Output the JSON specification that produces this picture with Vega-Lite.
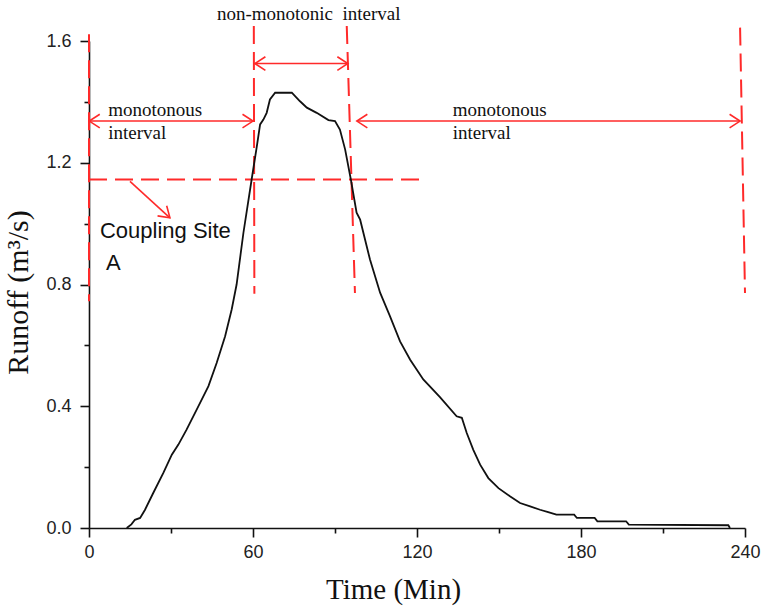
{
  "$schema": "https://vega.github.io/schema/vega-lite/v6.json",
  "width": 656,
  "height": 487,
  "autosize": {"type": "none"},
  "padding": {"left": 89, "top": 41, "right": 20, "bottom": 85},
  "background": "white",
  "config": {"view": {"stroke": null}},
  "datasets": {
    "curve": [
      {"t": 13.8, "q": 0}, {"t": 15.5, "q": 0.012}, {"t": 16.8, "q": 0.027}, {"t": 18.7, "q": 0.033},
      {"t": 20.5, "q": 0.06}, {"t": 23.5, "q": 0.115}, {"t": 27.2, "q": 0.181}, {"t": 30.3, "q": 0.241},
      {"t": 32.7, "q": 0.274}, {"t": 35.7, "q": 0.323}, {"t": 39.4, "q": 0.389}, {"t": 43.7, "q": 0.466},
      {"t": 46.7, "q": 0.542}, {"t": 49.8, "q": 0.63}, {"t": 52.2, "q": 0.718}, {"t": 54.0, "q": 0.8},
      {"t": 56.5, "q": 0.97}, {"t": 59.5, "q": 1.145}, {"t": 61.4, "q": 1.254}, {"t": 62.6, "q": 1.326},
      {"t": 63.8, "q": 1.342}, {"t": 65.0, "q": 1.364}, {"t": 66.2, "q": 1.408}, {"t": 68.1, "q": 1.43},
      {"t": 74.2, "q": 1.43}, {"t": 77.2, "q": 1.402}, {"t": 79.7, "q": 1.381}, {"t": 83.3, "q": 1.364},
      {"t": 87.6, "q": 1.34}, {"t": 90.0, "q": 1.337}, {"t": 91.8, "q": 1.309}, {"t": 93.7, "q": 1.244},
      {"t": 95.8, "q": 1.145}, {"t": 97.9, "q": 1.036}, {"t": 99.2, "q": 1.013}, {"t": 102.8, "q": 0.882},
      {"t": 106.5, "q": 0.773}, {"t": 110.1, "q": 0.696}, {"t": 113.8, "q": 0.613}, {"t": 117.5, "q": 0.553},
      {"t": 122.3, "q": 0.488}, {"t": 128.4, "q": 0.43}, {"t": 134.5, "q": 0.367}, {"t": 136.4, "q": 0.362},
      {"t": 138.2, "q": 0.312}, {"t": 140.6, "q": 0.257}, {"t": 143.1, "q": 0.208}, {"t": 146.1, "q": 0.164},
      {"t": 149.8, "q": 0.131}, {"t": 154.0, "q": 0.104}, {"t": 157.7, "q": 0.082}, {"t": 161.4, "q": 0.071},
      {"t": 165.0, "q": 0.06}, {"t": 168.0, "q": 0.052}, {"t": 171.0, "q": 0.044}, {"t": 177.5, "q": 0.044},
      {"t": 178.5, "q": 0.033}, {"t": 185.0, "q": 0.033}, {"t": 186.0, "q": 0.022}, {"t": 196.5, "q": 0.022},
      {"t": 197.5, "q": 0.011}, {"t": 233.9, "q": 0.009}, {"t": 234.5, "q": 0.0}
    ],
    "dashes": [
      {"t": 0, "q": 1.622, "t2": 0, "q2": 0.745},
      {"t": 60.3, "q": 1.649, "t2": 60.5, "q2": 0.77},
      {"t": 94.3, "q": 1.649, "t2": 97.3, "q2": 0.772},
      {"t": 238.2, "q": 1.644, "t2": 240.0, "q2": 0.772},
      {"t": 0, "q": 1.145, "t2": 123.4, "q2": 1.145}
    ],
    "arrows": [
      {"t": 60.7, "q": 1.526, "t2": 94.7, "q2": 1.526},
      {"t": 0.1, "q": 1.337, "t2": 60.0, "q2": 1.337},
      {"t": 98.0, "q": 1.337, "t2": 238.2, "q2": 1.337},
      {"t": 15.0, "q": 1.139, "t2": 29.6, "q2": 1.019}
    ],
    "heads": [
      {"t": 60.7, "q": 1.526, "dir": 180}, {"t": 94.7, "q": 1.526, "dir": 0},
      {"t": 0.1, "q": 1.337, "dir": 180}, {"t": 60.0, "q": 1.337, "dir": 0},
      {"t": 98.0, "q": 1.337, "dir": 180}, {"t": 238.2, "q": 1.337, "dir": 0},
      {"t": 29.6, "q": 1.019, "dir": 42}
    ],
    "serif": [
      {"t": 46.8, "q": 1.669, "label": "non-monotonic\u00a0\u00a0interval"},
      {"t": 7.06, "q": 1.353, "label": "monotonous"},
      {"t": 7.06, "q": 1.277, "label": "interval"},
      {"t": 133.1, "q": 1.353, "label": "monotonous"},
      {"t": 133.1, "q": 1.277, "label": "interval"}
    ],
    "sans": [
      {"t": 4.0, "q": 0.953, "label": "Coupling Site"},
      {"t": 6.2, "q": 0.849, "label": "A"}
    ]
  },
  "encoding": {
    "x": {
      "field": "t", "type": "quantitative",
      "scale": {"domain": [0, 240], "nice": false, "zero": false},
      "axis": {
        "title": "Time (Min)",
        "values": [0, 30, 60, 90, 120, 150, 180, 210, 240],
        "labelExpr": "datum.value % 60 == 0 ? datum.label : ''",
        "tickSize": {"condition": {"test": "datum.value % 60 == 0", "value": 9}, "value": 5},
        "grid": false,
        "domainColor": "#111", "domainWidth": 1.6,
        "tickColor": "#111", "tickWidth": 1.6,
        "labelFont": "Liberation Sans", "labelFontSize": 18, "labelColor": "#222", "labelPadding": 6,
        "labelFlush": false, "labelOverlap": false,
        "titleFont": "Liberation Serif", "titleFontSize": 29, "titleFontWeight": "normal", "titleColor": "#111",
        "titleX": 304, "titleY": 70, "titleBaseline": "alphabetic", "titleAlign": "center"
      }
    },
    "y": {
      "field": "q", "type": "quantitative",
      "scale": {"domain": [0, 1.6], "nice": false},
      "axis": {
        "title": "Runoff (m³/s)",
        "values": [0, 0.2, 0.4, 0.6, 0.8, 1.0, 1.2, 1.4, 1.6],
        "labelExpr": "round(datum.value * 10) % 4 == 0 ? format(datum.value, '.1f') : ''",
        "tickSize": {"condition": {"test": "round(datum.value * 10) % 4 == 0", "value": 9}, "value": 5},
        "grid": false,
        "domainColor": "#111", "domainWidth": 1.6,
        "tickColor": "#111", "tickWidth": 1.6,
        "labelFont": "Liberation Sans", "labelFontSize": 18, "labelColor": "#222", "labelPadding": 9,
        "labelFlush": false, "labelOverlap": false,
        "titleFont": "Liberation Serif", "titleFontSize": 30, "titleFontWeight": "normal", "titleColor": "#111",
        "titleX": -62, "titleY": 251, "titleAngle": -90, "titleBaseline": "alphabetic", "titleAlign": "center"
      }
    }
  },
  "layer": [
    {
      "data": {"name": "dashes"},
      "mark": {"type": "rule", "color": "#ff2a2a", "strokeWidth": 2, "strokeDash": [18, 8]},
      "encoding": {"x2": {"field": "t2"}, "y2": {"field": "q2"}}
    },
    {
      "data": {"name": "curve"},
      "mark": {"type": "line", "color": "#111", "strokeWidth": 1.8, "interpolate": "linear"}
    },
    {
      "data": {"name": "arrows"},
      "mark": {"type": "rule", "color": "#ff2a2a", "strokeWidth": 1.6},
      "encoding": {"x2": {"field": "t2"}, "y2": {"field": "q2"}}
    },
    {
      "data": {"name": "heads"},
      "mark": {"type": "point", "shape": "M-1,-0.65L0,0L-1,0.65", "filled": false, "stroke": "#ff2a2a", "strokeWidth": 1.6, "size": 440, "opacity": 1},
      "encoding": {"angle": {"field": "dir", "type": "quantitative", "scale": null}}
    },
    {
      "data": {"name": "serif"},
      "mark": {"type": "text", "font": "Liberation Serif", "fontSize": 19, "color": "#111", "align": "left", "baseline": "alphabetic"},
      "encoding": {"text": {"field": "label"}}
    },
    {
      "data": {"name": "sans"},
      "mark": {"type": "text", "font": "Liberation Sans", "fontSize": 22, "color": "#111", "align": "left", "baseline": "alphabetic"},
      "encoding": {"text": {"field": "label"}}
    }
  ]
}
